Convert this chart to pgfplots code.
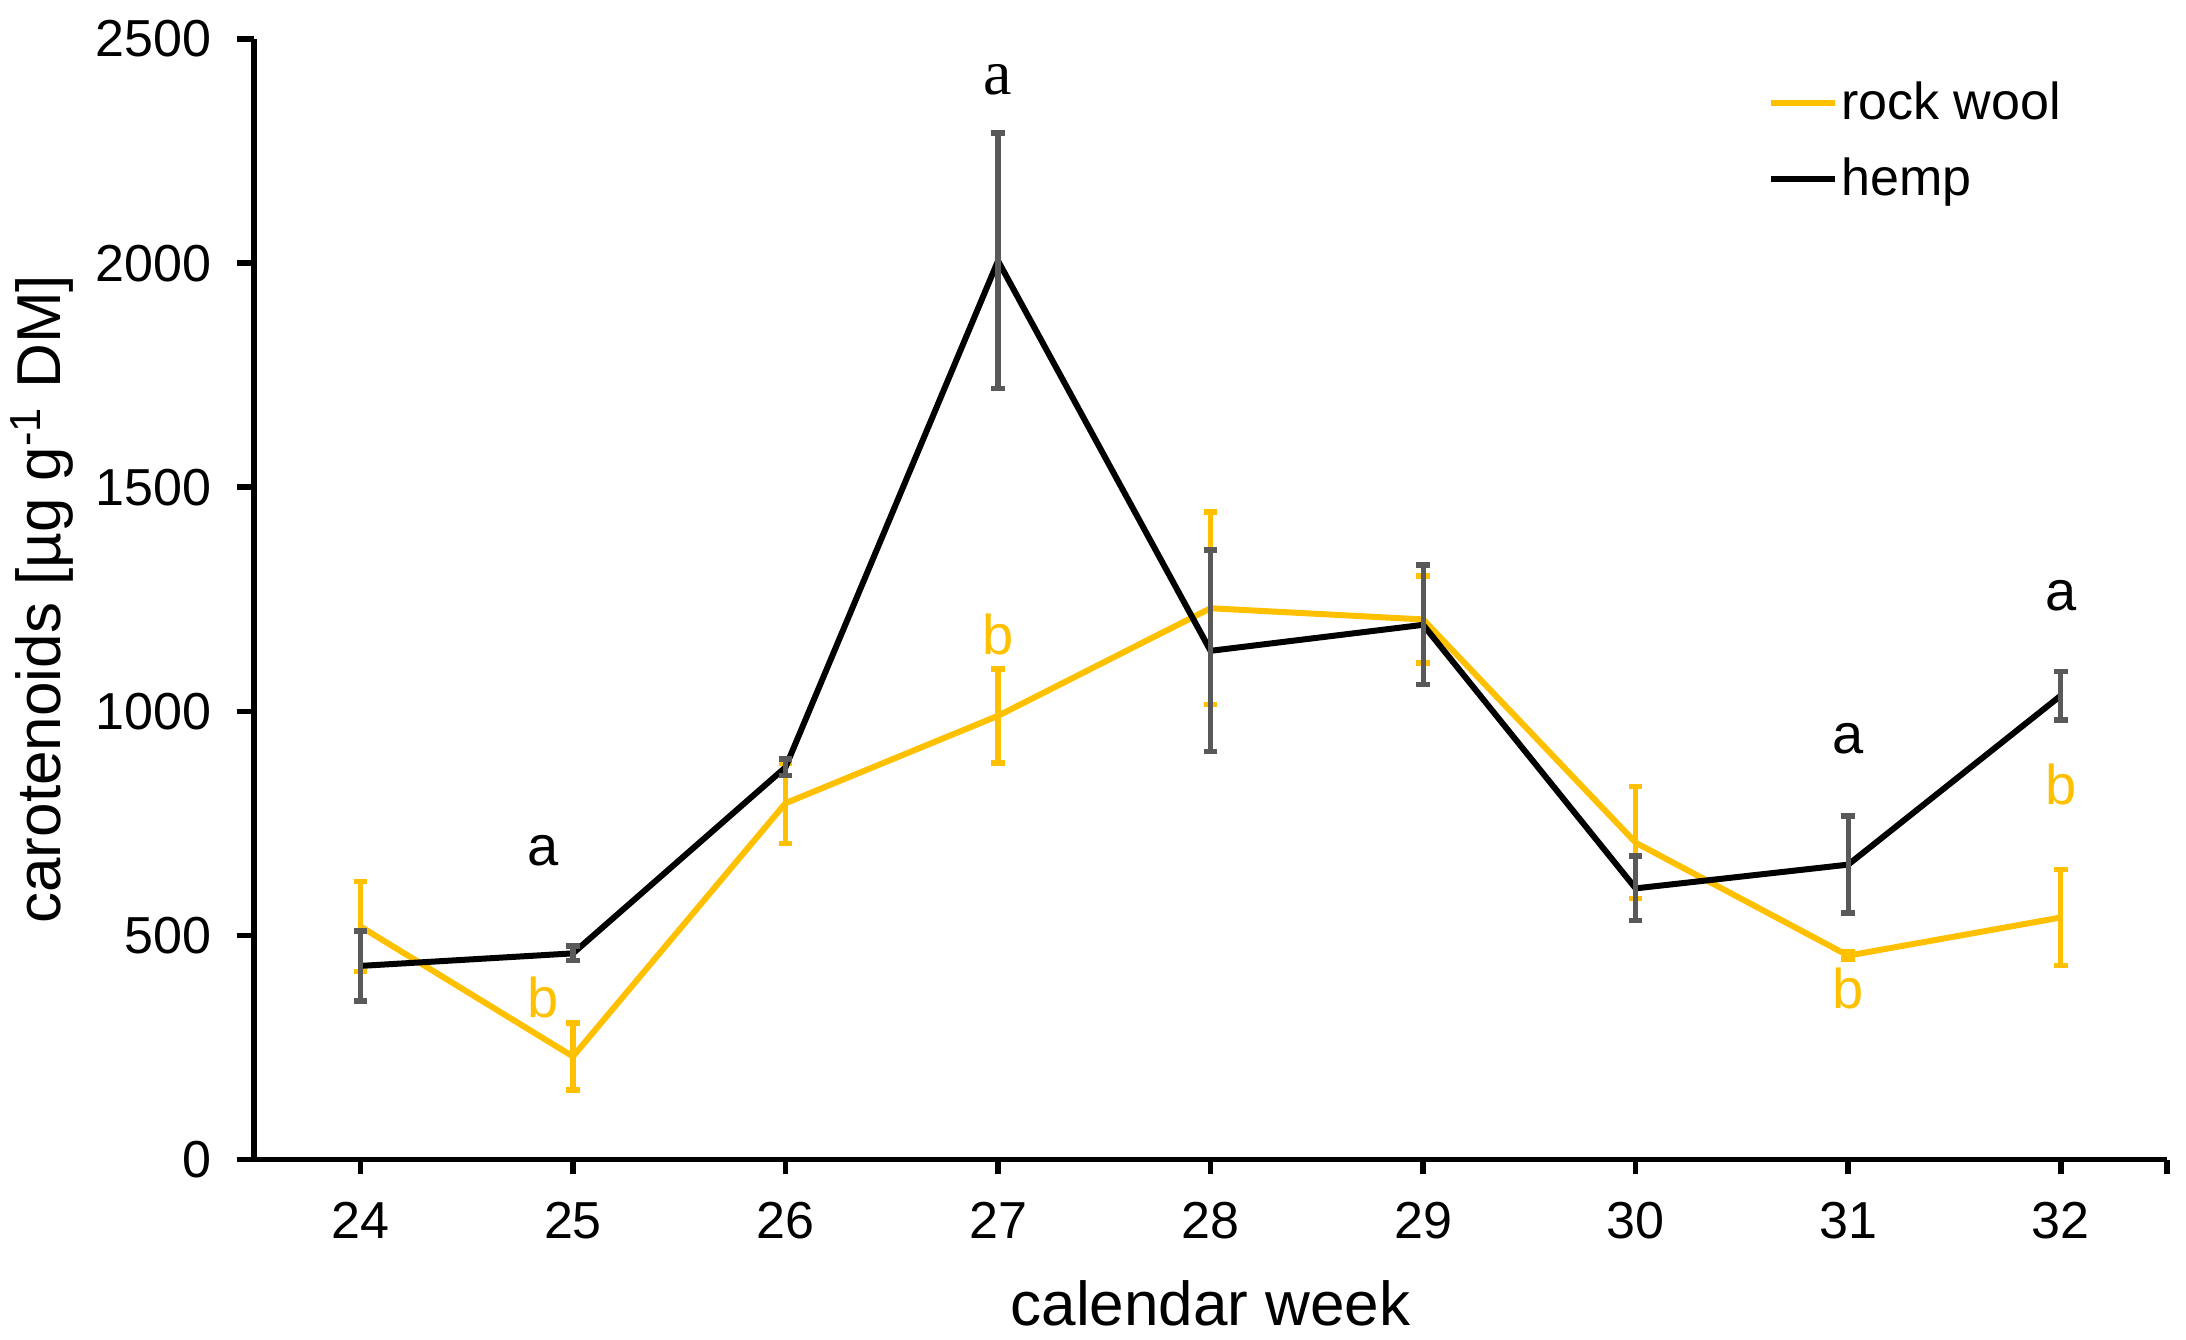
\documentclass[border=0pt]{standalone}
\usepackage{fontspec}
\setmainfont{Liberation Sans}
\newfontfamily\serifa{Liberation Serif}
\usepackage{pgfplots}
\usepackage{pgfplotstable}
\pgfplotsset{compat=1.18}

\definecolor{gold}{HTML}{FFC000}
\definecolor{bargray}{HTML}{595959}

% week, mean, error
\pgfplotstableread{
week val err
24 520 100
25 230 75
26 795 90
27 990 105
28 1230 215
29 1205 97
30 707 125
31 455 8
32 540 107
}\rockwool

\pgfplotstableread{
week val err
24 432 78
25 460 16
26 875 18
27 2005 285
28 1135 225
29 1193 133
30 605 72
31 658 108
32 1035 54
}\hemp

\newcommand\tickfont{\fontsize{13bp}{15bp}\selectfont}
\newcommand\labfont{\fontsize{15.5bp}{18bp}\selectfont}
\newcommand\letfont{\fontsize{14bp}{16bp}\selectfont}

\begin{document}
\begin{tikzpicture}
  \begin{axis}[
      width=478bp, height=280bp, scale only axis,
      xmin=23.5, xmax=32.5, ymin=0, ymax=2500,
      xtick={24,...,32}, ytick={0,500,...,2500},
      extra x ticks={32.5}, extra x tick labels={},
      axis x line*=bottom, axis y line*=left,
      axis line style={line width=1.4bp, black},
      tick align=outside,
      xtick style={line width=1.4bp, black, /pgfplots/major tick length=3.5bp},
      ytick style={line width=1.4bp, black, /pgfplots/major tick length=4.4bp},
      /pgf/number format/assume math mode=true,
      /pgf/number format/1000 sep={},
      ticklabel style={font=\tickfont},
      y tick label style={xshift=-3bp},
      x tick label style={yshift=-3bp},
      every axis y label/.style={at={(rel axis cs:0,0.5)}, xshift=-53bp,
        rotate=90, anchor=center, font=\labfont},
      every axis x label/.style={at={(rel axis cs:0.5,0)}, yshift=-36bp,
        anchor=center, font=\labfont},
      xlabel={calendar week},
      ylabel={carotenoids [µg g\textsuperscript{-1} DM]},
      legend style={at={(rel axis cs:0.791,0.975)}, anchor=north west,
        draw=none, fill=none, font=\tickfont, inner sep=0pt,
        nodes={inner xsep=0.8bp, inner ysep=3bp, text height=10bp, text depth=3bp}},
      legend cell align=left,
      legend image code/.code={\draw[#1, line width=1.5bp] (0bp,0.8bp) -- (16bp,0.8bp);},
      clip=false,
    ]
    \addplot[gold, line width=1.5bp, line join=round,
      error bars/.cd, y dir=both, y explicit,
      error bar style={gold, line width=1.3bp},
      error mark options={gold, rotate=90, mark size=1.7bp, line width=1.4bp}]
      table[x=week, y=val, y error=err] {\rockwool};
    \addlegendentry{rock wool}
    \addplot[black, line width=1.5bp, line join=round,
      error bars/.cd, y dir=both, y explicit,
      error bar style={bargray, line width=1.3bp},
      error mark options={bargray, rotate=90, mark size=1.7bp, line width=1.4bp}]
      table[x=week, y=val, y error=err] {\hemp};
    \addlegendentry{hemp}

    \node[font=\letfont, inner sep=0pt] at (axis cs:24.86,690) {a};
    \node[font=\letfont, inner sep=0pt, text=gold] at (axis cs:24.86,362) {b};
    \node[font=\serifa\fontsize{16bp}{18bp}\selectfont, inner sep=0pt] at (axis cs:27,2408) {a};
    \node[font=\letfont, inner sep=0pt, text=gold] at (axis cs:27,1172) {b};
    \node[font=\letfont, inner sep=0pt] at (axis cs:31,940) {a};
    \node[font=\letfont, inner sep=0pt, text=gold] at (axis cs:31,381) {b};
    \node[font=\letfont, inner sep=0pt] at (axis cs:32,1257) {a};
    \node[font=\letfont, inner sep=0pt, text=gold] at (axis cs:32,837) {b};
  \end{axis}
  \pgfresetboundingbox
  \path (current axis.south west) ++(-63.5bp,-45bp)
    rectangle ([shift={(4.75bp,9.75bp)}]current axis.north east);
\end{tikzpicture}
\end{document}
